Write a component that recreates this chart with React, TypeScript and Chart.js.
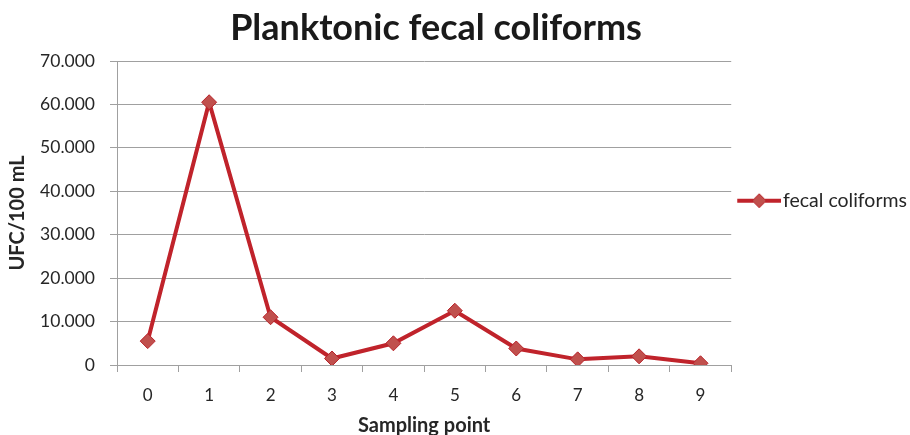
import { useEffect, useRef } from 'react';
import { Chart, registerables } from 'chart.js';

Chart.register(...registerables);

const categories = ['0', '1', '2', '3', '4', '5', '6', '7', '8', '9'];
const fecalColiforms = [5500, 60500, 11000, 1500, 5000, 12500, 3800, 1300, 2000, 400];
const yMin = 0;
const yMax = 70000;
const yStep = 10000;
const titleText = 'Planktonic fecal coliforms';
const seriesName = 'fecal coliforms';
const xTitle = 'Sampling point';
const yTitle = 'UFC/100 mL';

const FONT = 'Lato';
const TEXT = '#262626';
const GRID = '#a0a0a0';
const LINE = '#c0232b';
const MARKER_FILL = '#c0504d';
const MARKER_BORDER = '#b8232a';

function makeLegendSymbol(): HTMLCanvasElement {
  const c = document.createElement('canvas');
  c.width = 52;
  c.height = 16;
  const ctx = c.getContext('2d')!;
  ctx.strokeStyle = LINE;
  ctx.lineWidth = 4;
  ctx.beginPath();
  ctx.moveTo(8, 8);
  ctx.lineTo(52, 8);
  ctx.stroke();
  const cx = 30;
  ctx.beginPath();
  ctx.moveTo(cx - 7, 8);
  ctx.lineTo(cx, 1);
  ctx.lineTo(cx + 7, 8);
  ctx.lineTo(cx, 15);
  ctx.closePath();
  ctx.fillStyle = MARKER_FILL;
  ctx.fill();
  ctx.strokeStyle = MARKER_BORDER;
  ctx.lineWidth = 1;
  ctx.stroke();
  return c;
}

const titlePlugin = {
  id: 'customTitle',
  afterDraw(chart: any) {
    const ctx = chart.ctx;
    ctx.save();
    ctx.font = `bold 36px ${FONT}`;
    ctx.fillStyle = '#1a1a1a';
    ctx.textAlign = 'center';
    ctx.textBaseline = 'alphabetic';
    ctx.fillText(titleText, 436, 40);
    ctx.restore();
  },
};

export default function App() {
  const ref = useRef<HTMLCanvasElement | null>(null);

  useEffect(() => {
    if (!ref.current) return;
    const symbol = makeLegendSymbol();
    const chart = new Chart(ref.current, {
      type: 'line',
      data: {
        labels: categories,
        datasets: [
          {
            label: seriesName,
            data: fecalColiforms,
            borderColor: LINE,
            borderWidth: 4,
            pointStyle: 'rectRot',
            pointRadius: 7.5,
            pointBackgroundColor: MARKER_FILL,
            pointBorderColor: MARKER_BORDER,
            pointBorderWidth: 1,
            tension: 0,
          },
        ],
      },
      plugins: [titlePlugin],
      options: {
        responsive: false,
        animation: false,
        layout: { padding: { top: 61, left: 0, right: -7, bottom: 0 } },
        plugins: {
          title: { display: false },
          tooltip: { enabled: false },
          legend: {
            position: 'right',
            align: 'start',
            title: { display: true, text: ' ', font: { size: 10 }, padding: { top: 112, bottom: 0 } },
            labels: {
              usePointStyle: true,
              pointStyleWidth: 36,
              boxHeight: 16,
              padding: 6,
              color: TEXT,
              font: { family: FONT, size: 19.5 },
              generateLabels: () => [
                {
                  text: seriesName,
                  pointStyle: symbol as any,
                  fillStyle: MARKER_FILL,
                  strokeStyle: LINE,
                  lineWidth: 0,
                  hidden: false,
                  datasetIndex: 0,
                  fontColor: TEXT,
                },
              ],
            },
          },
        },
        scales: {
          x: {
            type: 'category',
            offset: true,
            afterFit: (s: any) => {
              s.height = 70;
            },
            grid: {
              display: true,
              offset: true,
              drawOnChartArea: false,
              drawTicks: true,
              tickLength: 7,
              color: GRID,
            },
            border: { display: true, color: GRID, width: 1 },
            ticks: { color: TEXT, font: { family: FONT, size: 17 }, padding: 13 },
            title: {
              display: true,
              text: xTitle,
              color: TEXT,
              font: { family: FONT, size: 20, weight: 'bold' },
              padding: { top: 2, bottom: -3 },
            },
          },
          y: {
            min: yMin,
            max: yMax,
            afterFit: (s: any) => {
              s.width = 117;
            },
            grid: { color: GRID, tickLength: 7, drawTicks: true },
            border: { display: true, color: GRID, width: 1 },
            ticks: {
              stepSize: yStep,
              color: TEXT,
              font: { family: FONT, size: 17.5 },
              padding: 15,
              callback: (v: any) => (Number(v) === 0 ? '0' : Number(v).toLocaleString('de-DE')),
            },
            title: {
              display: true,
              text: yTitle,
              color: TEXT,
              font: { family: FONT, size: 20, weight: 'bold' },
              padding: { top: 6, bottom: 0 },
            },
          },
        },
      },
    });
    return () => chart.destroy();
  }, []);

  return (
    <div style={{ position: 'absolute', top: 0, left: 0, width: 910, height: 435 }}>
      <canvas ref={ref} width={910} height={435} style={{ display: 'block' }} />
    </div>
  );
}
